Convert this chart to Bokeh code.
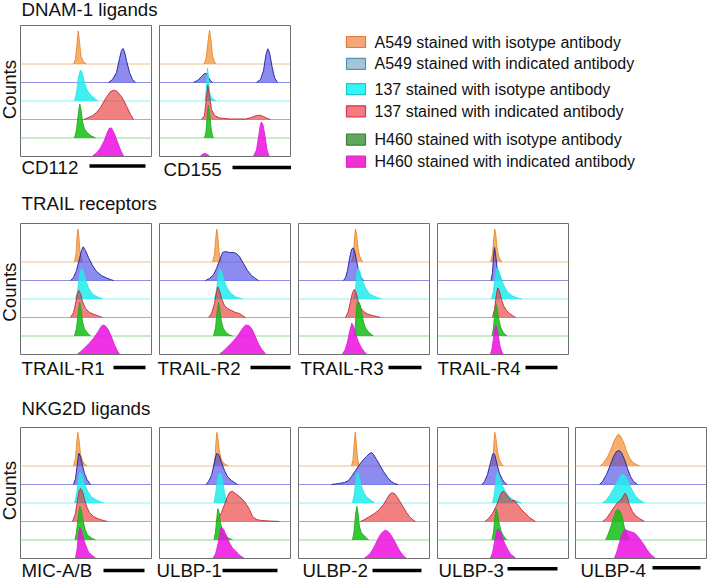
import math
from bokeh.plotting import figure
from bokeh.models import Range1d, Span, Spacer
from bokeh.layouts import row, column
from bokeh.core.properties import value
from bokeh.embed import file_html
from bokeh.resources import INLINE

# ---------------- data ----------------
SAMPLES = [
    "A549 stained with isotype antibody",
    "A549 stained with indicated antibody",
    "137 stained with isotype antibody",
    "137 stained with indicated antibody",
    "H460 stained with isotype antibody",
    "H460 stained with indicated antibody",
]
GROUP_TITLES = ["DNAM-1 ligands", "TRAIL receptors", "NKG2D ligands"]
ROW1_NAMES = ["CD112", "CD155"]
ROW2_NAMES = ["TRAIL-R1", "TRAIL-R2", "TRAIL-R3", "TRAIL-R4"]
ROW3_NAMES = ["MIC-A/B", "ULBP-1", "ULBP-2", "ULBP-3", "ULBP-4"]
Y_LABEL = "Counts"

# each histogram: (relative log fluorescence, normalised counts); order = SAMPLES
CD112 = [
    [(53, 0), (55, 5), (56.5, 20), (57.7, 33), (59, 22), (60.5, 8), (63, 2), (66, 0)],
    [(88, 0), (92, 3), (96, 10), (99, 24), (101, 32), (102.5, 34), (104, 31), (106, 22), (109, 10), (112, 3), (115, 0)],
    [(54, 0), (56, 8), (58, 24), (60, 31), (62, 27), (64, 18), (67, 10), (71, 5), (75, 2), (77, 0)],
    [(63, 0), (67, 1.5), (71.7, 3.7), (76, 7), (80, 12), (85, 21), (90, 28), (93.3, 29.3), (96.7, 28), (101.7, 22), (106.7, 12), (110, 5), (112, 2), (113, 0)],
    [(54, 0), (56, 8), (58, 26), (59.3, 34), (60.5, 28), (62, 16), (64, 9), (67, 5), (71, 2), (75, 0)],
    [(72, 0), (76, 3), (80, 8), (84, 16), (87, 24), (89, 28), (91, 28), (94, 22), (97, 14), (100, 6), (103, 0)],
]
CD155 = [
    [(44.5, 0), (46.5, 5), (48.5, 22), (50, 34), (51.5, 24), (53, 8), (55, 2), (56.5, 0)],
    [(34, 0), (38, 2), (42, 6), (45, 9), (47, 9), (49, 5), (51, 2), (53, 0), (97, 0), (101, 3), (104, 12), (106.5, 28), (108.3, 33.7), (110, 30), (112.5, 16), (115, 5), (118, 0)],
    [(45.5, 0), (46.5, 8), (47.5, 26), (48, 33), (49, 24), (50, 8), (52, 3), (55, 1), (57, 0)],
    [(42, 0), (45, 4), (46.5, 18), (48.3, 34), (50, 24), (52, 10), (55, 4), (60, 1.5), (70, 0.5), (86, 0.5), (92, 2), (97, 4), (100, 4.3), (104, 3), (108, 1), (111, 0)],
    [(45, 0), (46.5, 6), (47.8, 24), (48.7, 33), (50, 26), (51.5, 10), (53, 2), (54, 0)],
    [(41, 0), (43.5, 2), (45.5, 2.5), (48, 1.5), (50, 0), (94, 0), (97, 6), (99.5, 22), (101, 32), (102, 34), (103.5, 31), (105.5, 20), (107.5, 6), (109.5, 0)],
]
TRAIL_R1 = [
    [(54, 0), (55.5, 8), (56.5, 24), (57.3, 33), (58.3, 26), (59.5, 10), (61, 2), (62, 0)],
    [(50, 0), (53, 3), (56, 10), (59, 22), (61, 30), (62.7, 33.7), (65, 30), (68, 23), (72, 15), (76, 9), (81, 5), (86, 2.5), (90, 1), (93, 0)],
    [(55, 0), (57, 8), (59, 24), (61, 31), (63, 27), (65.5, 18), (68, 11), (72, 5), (77, 2), (82, 0)],
    [(50, 0), (53, 5), (55.5, 16), (57, 24), (58.3, 27), (60, 24), (62, 16), (65, 9), (69, 5), (74, 3), (78, 1.5), (82, 0)],
    [(54, 0), (56, 8), (58, 26), (59.3, 34), (60.5, 27), (62, 14), (64, 7), (67, 3), (70, 0)],
    [(57, 0), (61, 3), (65, 7), (70, 12), (74, 17), (78, 23), (81, 28), (83, 29), (85, 28), (88, 24), (91, 17), (94, 9), (97, 3), (99, 0)],
]
TRAIL_R2 = [
    [(53, 0), (55, 8), (56.3, 24), (57.3, 33), (58.3, 26), (59.5, 10), (61, 2), (62, 0)],
    [(46, 0), (50, 2), (54, 6), (57, 12), (60, 20), (63, 28), (66, 29), (70, 28), (74, 28), (77, 27), (80, 24), (84, 17), (88, 10), (92, 5), (96, 2), (99, 0)],
    [(55, 0), (57, 8), (58.5, 22), (60, 31), (62, 28), (64.5, 19), (67, 12), (71, 6), (76, 2), (83, 0)],
    [(49, 0), (52, 4), (55, 14), (57, 26), (58.3, 30.7), (60, 27), (62, 19), (65, 12), (68, 9), (72, 7), (76, 5), (80, 4), (83, 2), (86, 0)],
    [(54, 0), (56, 8), (57.8, 26), (59, 33.7), (60.3, 27), (62, 14), (64, 7), (67, 3), (70, 1), (73, 0)],
    [(60, 0), (64, 3), (68, 7), (73, 12), (78, 18), (82, 24), (85, 28), (87, 29), (90, 28), (93, 24), (96, 17), (99, 10), (102, 5), (106, 0)],
]
TRAIL_R3 = [
    [(53, 0), (55, 8), (56, 24), (57, 33), (58, 28), (59.5, 14), (61, 6), (63, 2), (64, 0)],
    [(45, 0), (47, 3), (49, 10), (51, 22), (53, 31), (54.5, 32.7), (56, 30), (58, 20), (60, 10), (62, 4), (65, 0)],
    [(55, 0), (57, 10), (58.5, 26), (59.5, 31), (61.5, 27), (64, 18), (67, 11), (71, 5), (77, 2), (83, 0)],
    [(47, 0), (49.5, 5), (52, 16), (54, 25), (55.7, 28), (57.5, 25), (59.5, 17), (62, 10), (65, 6), (69, 3.5), (74, 2), (78, 1), (82, 0)],
    [(56, 0), (57, 14), (58, 28), (59, 34.7), (61, 33), (63, 25), (65, 14), (67, 8), (70, 4), (73, 1.5), (75, 0)],
    [(44, 0), (46.5, 4), (49, 12), (51, 22), (53.3, 30.7), (55, 28), (57, 20), (60, 12), (63, 6), (66, 2), (68, 0)],
]
TRAIL_R4 = [
    [(53, 0), (55, 8), (56.3, 24), (57.3, 33), (58.3, 27), (59.5, 14), (61, 6), (63, 2), (64.5, 0)],
    [(53.5, 0), (55, 8), (56, 24), (57, 33), (58, 27), (59.5, 13), (61, 5), (63, 2), (64.5, 0)],
    [(54, 0), (56, 8), (58, 24), (59.3, 31), (61, 29), (63.5, 21), (66, 14), (70, 7), (75, 3), (80, 1), (84, 0)],
    [(55, 0), (57, 8), (59, 24), (60.3, 29.7), (62, 26), (64, 18), (66, 12), (69, 7), (72, 4), (75, 2), (78, 0)],
    [(54.5, 0), (56, 8), (57.3, 24), (58.3, 32.3), (59.5, 28), (61, 18), (63, 9), (66, 3), (69.5, 0)],
    [(53, 0), (54.5, 5), (56, 16), (57.3, 26), (58.3, 29), (59.5, 26), (61, 17), (62.5, 8), (64, 3), (65.5, 0)],
]
MIC_AB = [
    [(53, 0), (55, 8), (56.3, 24), (57.3, 33.7), (58.5, 26), (60, 12), (62, 5), (64, 2), (66.5, 0)],
    [(53, 0), (55, 6), (57, 22), (58.3, 31.3), (60, 28), (62, 19), (64, 11), (66.5, 5), (70, 0)],
    [(54, 0), (56, 8), (58, 24), (59.3, 31), (61.5, 28), (64, 19), (67, 12), (71, 6), (76, 3), (80, 1), (83, 0)],
    [(52, 0), (55, 8), (57, 22), (58.5, 30), (60, 33), (62, 30), (64, 22), (66.5, 14), (69, 9), (73, 5), (78, 2.5), (83, 1), (87, 0)],
    [(54.5, 0), (56, 8), (58, 26), (59.3, 33.7), (60.7, 30), (62.5, 20), (64.5, 11), (67, 5), (71, 2), (75, 0)],
    [(55, 0), (56.5, 8), (58, 24), (59.3, 31), (61, 27), (63, 19), (65.5, 12), (68, 6), (71, 3), (75, 0)],
]
ULBP1 = [
    [(54, 0), (55.5, 8), (56.5, 24), (57.3, 33.7), (58.5, 27), (60, 14), (62, 6), (65, 2), (69, 0)],
    [(46.5, 0), (49, 3), (52, 9), (54.5, 20), (56.5, 29), (57.7, 31.3), (59.5, 29), (62, 22), (65, 14), (68, 8), (72, 4), (75, 2), (78, 0)],
    [(54.5, 0), (56, 8), (58, 23), (60, 30.3), (62, 28), (63.5, 20), (65, 10), (66.5, 4), (68, 0)],
    [(56, 0), (59, 3), (62, 9), (65, 17), (68, 25), (70, 29), (72.7, 30.3), (76, 28), (80, 25), (84, 21), (87, 17), (90, 12), (93, 5), (97, 2), (102, 1), (110, 0.5), (120, 0)],
    [(54.5, 0), (56, 8), (57.5, 24), (58.3, 31.3), (59.5, 28), (61, 17), (63, 9), (66, 4), (69, 2), (73, 0)],
    [(53.5, 0), (56, 4), (58.5, 14), (60.5, 27), (61.7, 31), (64, 29), (67, 22), (70, 15), (73, 10), (77, 6), (81, 2), (84.5, 0)],
]
ULBP2 = [
    [(53, 0), (54.5, 6), (55.7, 22), (56.7, 33.7), (57.7, 24), (59, 8), (60.5, 0)],
    [(33, 0), (40, 1), (46, 2), (50, 4), (53, 8), (57, 14), (61, 20), (65, 25), (68, 28), (71, 31), (73, 32), (75, 30), (78, 25), (81, 20), (85, 13), (89, 7), (93, 3), (96, 1), (99.5, 0)],
    [(54, 0), (56, 10), (57.8, 26), (59, 31), (60.5, 27), (62.5, 18), (65, 11), (68, 6), (72, 3), (76, 0)],
    [(62, 0), (66, 2), (71, 5), (76, 8), (81, 12), (85, 17), (88, 22), (91, 27), (93.3, 28.7), (96, 28), (99, 24), (102, 19), (105, 14), (108, 9), (111, 5), (114, 2), (117, 0)],
    [(54, 0), (55.5, 8), (57, 25), (58.3, 33.7), (59.5, 27), (61, 13), (63, 7), (66, 4), (70, 0)],
    [(66, 0), (69, 2), (72, 5), (75, 10), (78, 16), (81, 22), (84, 26), (86.7, 27.7), (89, 27), (91, 25), (93, 22), (96, 17), (99, 11), (102, 6), (105, 2), (107.5, 0)],
]
ULBP3 = [
    [(54, 0), (55.5, 8), (56.5, 24), (57.3, 33.7), (58.5, 27), (60, 14), (62, 6), (64, 2), (66, 0)],
    [(44.5, 0), (47, 3), (50, 10), (53, 22), (55, 30), (56, 31.3), (57.5, 29), (59.5, 20), (62, 11), (65, 5), (67, 2), (69.5, 0)],
    [(55, 0), (57, 9), (58.7, 25), (59.7, 30.7), (61.5, 27), (64, 19), (67, 13), (71, 7), (76, 3), (80, 1.5), (84, 0)],
    [(47.5, 0), (51, 3), (55, 8), (59, 16), (62, 24), (64, 29), (66, 30.3), (68, 28), (71, 24), (74, 21), (77, 21), (80, 17), (84, 12), (88, 8), (92, 4), (95, 2), (98, 0)],
    [(54.5, 0), (56, 8), (57.5, 24), (58.7, 31.3), (60, 27), (61.5, 17), (63.5, 9), (66, 4), (69.5, 0)],
    [(53, 0), (55, 5), (57, 16), (59, 26), (60, 29), (62, 28), (64.5, 22), (67, 15), (70, 9), (73, 4), (75.5, 2), (78, 0)],
]
ULBP4 = [
    [(24.5, 0), (28, 3), (32, 9), (36, 18), (39, 26), (42, 31), (43.3, 31.7), (45, 30), (48, 24), (51, 15), (54, 8), (58, 3), (62, 1), (64, 0)],
    [(24, 0), (27, 3), (31, 10), (35, 20), (38, 28), (41, 33), (44, 34), (46, 32), (49, 25), (52, 16), (55, 8), (58, 3), (62, 0)],
    [(27, 0), (31, 3), (35, 9), (39, 16), (42, 22), (45, 27), (47.3, 28.7), (50, 27), (53, 21), (56, 14), (60, 7), (64, 3), (69, 0)],
    [(27, 0), (31, 3), (35, 9), (39, 15), (42, 19), (45, 21), (47.5, 25), (49.7, 28.3), (52, 24), (54, 16), (57, 10), (60, 6), (64, 3), (69, 0)],
    [(30, 0), (32, 4), (35, 12), (38, 22), (40.5, 29), (42.3, 30.7), (44.5, 29), (46.5, 24), (48.5, 14), (51, 6), (54, 0)],
    [(39, 0), (41, 5), (43, 12), (45.5, 21), (48, 27), (50, 28.3), (53, 27), (56, 26), (59, 25), (62, 22), (65, 18), (68, 14), (71, 9), (74, 5), (77, 2), (79.5, 0)],
]

# ---------------- styling ----------------
FONT = value("Liberation Sans")
TXT = "#111111"
FILL = ["#f29640", "#3f3fe6", "#1eeded", "#e82b2b", "#14be14", "#ed0ee2"]
FILL_ALPHA = [0.75, 0.6, 0.85, 0.6, 0.85, 0.85]
LINE = ["#e8882a", "#1c1c9c", "#30e0e0", "#c02838", "#20a820", "#e020d8"]
BASE = ["#f0c090", "#9090e0", "#90f0f0", "#f09098", "#90d890", None]
LEG_FILL = ["#f2a878", "#a4c4dc", "#33f5f5", "#f47c7c", "#5fa85f", "#ee30d4"]
LEG_LINE = ["#e07a3a", "#5f8fb0", "#22c8c8", "#e0304a", "#3c803c", "#e020c8"]
OFFSETS = [92.5, 74, 55.5, 37, 18.5, 0.5]
PANEL = 131
FIG = PANEL + 2
TITLE_SIZE = "18.7px"
LEG_SIZE = "16px"


def strip_grid(p):
    p.xgrid.visible = False
    p.ygrid.visible = False
    p.background_fill_color = "white"
    p.border_fill_color = "white"


def base_fig(w, h, flip=True):
    yr = Range1d(h, 0) if flip else Range1d(0, h)
    p = figure(width=w, height=h, x_range=Range1d(0, w), y_range=yr,
               min_border=0, toolbar_location=None, tools="",
               output_backend="svg", x_axis_location=None, y_axis_location=None,
               outline_line_color=None)
    strip_grid(p)
    return p


def add_text(p, x, y, txt, size, angle=0.0, align="left"):
    p.text(x=[x], y=[y], text=[txt], text_font=FONT, text_font_size=size,
           text_baseline="middle", text_align=align, angle=angle,
           text_color=TXT)


def add_bar(p, x0, x1, y):
    p.segment(x0=[x0], y0=[y], x1=[x1], y1=[y], line_color="black",
              line_width=3.5, line_cap="butt")


def panel(curves):
    p = figure(width=FIG, height=FIG, x_range=Range1d(0, PANEL),
               y_range=Range1d(0, PANEL), min_border=1, toolbar_location=None,
               tools="", output_backend="svg", x_axis_location=None,
               y_axis_location=None)
    strip_grid(p)
    p.outline_line_color = "#6e6e6e"
    p.outline_line_width = 1
    for i, curve in enumerate(curves):
        off = OFFSETS[i]
        if BASE[i] is not None:
            p.add_layout(Span(location=off, dimension="width",
                              line_color=BASE[i], line_width=1,
                              level="underlay"))
        xs = [pt[0] for pt in curve]
        tops = [off + pt[1] for pt in curve]
        p.varea(x=xs, y1=[off] * len(xs), y2=tops,
                fill_color=FILL[i], fill_alpha=FILL_ALPHA[i])
        # outline, broken where the curve lies on its baseline
        lx, ly = [], []
        for j, pt in enumerate(curve):
            if j > 0 and pt[1] == 0 and curve[j - 1][1] == 0:
                lx.append(float("nan"))
                ly.append(float("nan"))
            lx.append(pt[0])
            ly.append(off + pt[1])
        p.line(lx, ly, line_color=LINE[i], line_width=1, line_alpha=0.9)
    return p


def counts_fig(yc):
    p = base_fig(19, FIG, flip=False)
    add_text(p, 9.0, yc, Y_LABEL, TITLE_SIZE, angle=math.pi / 2, align="center")
    return p


# ---------------- top block ----------------
t1 = base_fig(709, 24)
add_text(t1, 21, 9.0, GROUP_TITLES[0], TITLE_SIZE)

row1 = row(counts_fig(68), panel(CD112), Spacer(width=6, height=FIG), panel(CD155))

sL = base_fig(291, 65)
add_text(sL, 21, 9.7, ROW1_NAMES[0], TITLE_SIZE)
add_bar(sL, 89, 145, 8.5)
add_text(sL, 163, 12.2, ROW1_NAMES[1], TITLE_SIZE)
add_bar(sL, 232, 291, 10)
add_text(sL, 21, 45.5, GROUP_TITLES[1], TITLE_SIZE)

leg = base_fig(418, 198)
leg_y = [17.5, 39.3, 64.7, 86.8, 115.2, 137.2]
leg.rect(x=[64.5] * 6, y=leg_y, width=19, height=11, fill_color=LEG_FILL,
         line_color=LEG_LINE, line_width=1.2)
for name, yy in zip(SAMPLES, leg_y):
    add_text(leg, 83, yy, name, LEG_SIZE)

block1 = row(column(row1, sL), leg)

# ---------------- TRAIL row ----------------
row2 = row(counts_fig(63.3), panel(TRAIL_R1), Spacer(width=6, height=FIG),
           panel(TRAIL_R2), Spacer(width=6, height=FIG), panel(TRAIL_R3),
           Spacer(width=6, height=FIG), panel(TRAIL_R4))

sM = base_fig(709, 71)
for name, tx, bx0, bx1 in zip(ROW2_NAMES, [21, 157, 300, 437],
                              [113, 250, 388, 525], [145, 290, 421, 557]):
    add_text(sM, tx, 13.4, name, TITLE_SIZE)
    add_bar(sM, bx0, bx1, 12)
add_text(sM, 21, 52.5, GROUP_TITLES[2], TITLE_SIZE)

# ---------------- NKG2D row ----------------
row3 = row(counts_fig(69), panel(MIC_AB), Spacer(width=6, height=FIG),
           panel(ULBP1), Spacer(width=6, height=FIG), panel(ULBP2),
           Spacer(width=6, height=FIG), panel(ULBP3),
           Spacer(width=5, height=FIG), panel(ULBP4))

sB = base_fig(709, 20)
for name, tx, bx0, bx1, by in zip(ROW3_NAMES, [21, 156, 302, 438, 580],
                                  [103, 222, 372, 507, 652],
                                  [144, 277, 421, 557, 700],
                                  [11, 11, 11, 9.3, 8.3]):
    add_text(sB, tx, 10.5, name, TITLE_SIZE)
    add_bar(sB, bx0, bx1, by)

page = column(t1, block1, row2, sM, row3, sB)

open("out.html", "w").write(file_html(page, INLINE))
